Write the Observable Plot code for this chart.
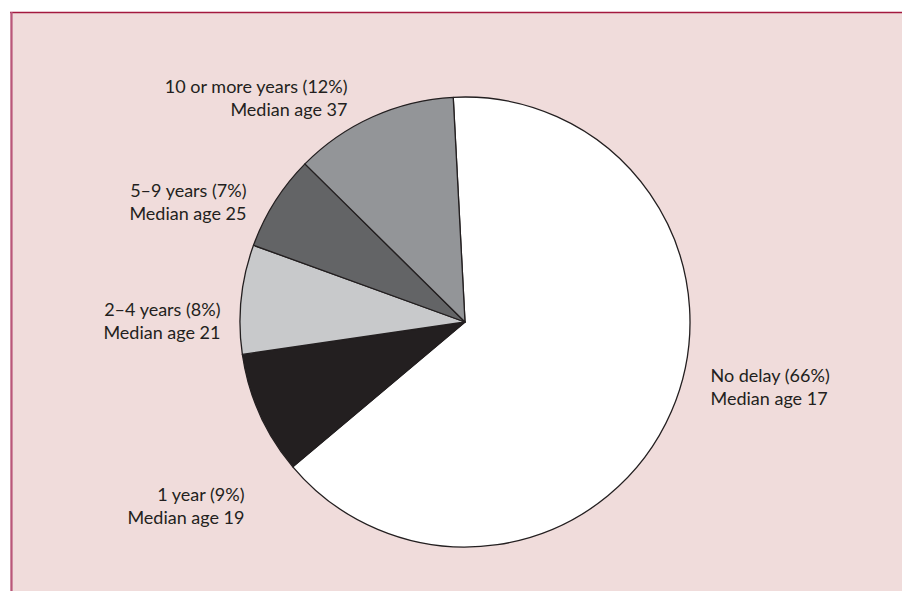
<!DOCTYPE html>
<html><head><meta charset="utf-8">
<script src="https://cdn.jsdelivr.net/npm/d3@7"></script>
<script src="https://cdn.jsdelivr.net/npm/@observablehq/plot@0.6"></script>
<style>html,body{margin:0;padding:0;background:#fff}</style>
</head><body><div id="chart"></div>
<script>
// ---- data ----
const categories = ["No delay", "1 year", "2–4 years", "5–9 years", "10 or more years"];
const shares = [66, 9, 8, 7, 12];
const medianAges = [17, 19, 21, 25, 37];

// ---- styles / layout ----
const sliceColors = ["#ffffff", "#231f20", "#c8c9cb", "#636466", "#939598"];
const W = 902, H = 591;
const panel = {x1: 10, y1: 12};
const pieCenter = [465, 322], pieRadius = 225, startDeg = -3;
// label anchor points (first line top) and alignment
const labelX = [710, 244, 220, 246, 347];
const labelY = [365, 484, 299, 180, 76];
const labelAlign = ["start", "end", "end", "end", "end"];

const rows = categories.map((c, i) => ({
  category: c, share: shares[i], median: medianAges[i],
  lx: labelX[i], ly: labelY[i], align: labelAlign[i]
}));

const colorScale = Plot.scale({color: {type: "ordinal", domain: categories, range: sliceColors}});
const a0 = startDeg * Math.PI / 180;
const arcs = d3.pie().value(d => d.share).sort(null).startAngle(a0).endAngle(a0 + 2 * Math.PI)(rows);
const arcGen = d3.arc().innerRadius(0).outerRadius(pieRadius);

function pieMark() {
  const g = d3.create("svg:g")
    .attr("transform", `translate(${pieCenter[0]},${pieCenter[1]})`);
  g.selectAll("path").data(arcs).join("path")
    .attr("d", arcGen)
    .attr("fill", d => colorScale.apply(d.data.category))
    .attr("stroke", "#231f20")
    .attr("stroke-width", 1.3)
    .attr("stroke-linejoin", "round");
  return g.node();
}

const labelText = d => `${d.category} (${d.share}%)\nMedian age ${d.median}`;
const textOpts = {
  x: "lx", y: "ly", text: labelText, lineAnchor: "top", lineHeight: 1.28,
  fontSize: 18, fill: "#231f20"
};

const chart = Plot.plot({
  width: W, height: H, margin: 0,
  x: {domain: [0, W], range: [0, W], axis: null},
  y: {domain: [0, H], range: [0, H], axis: null},
  style: {fontFamily: "Lato, 'Open Sans', sans-serif", background: "#fff", overflow: "visible"},
  marks: [
    Plot.rect([panel], {x1: "x1", y1: "y1", x2: W, y2: H, fill: "#f0dcdb"}),
    Plot.ruleY([panel.y1], {x1: panel.x1, x2: W, stroke: "#a3193f", strokeWidth: 1.6}),
    Plot.ruleX([panel.x1 + 1], {y1: panel.y1, y2: H, stroke: "#b9577a", strokeWidth: 2.2}),
    pieMark,
    Plot.text(rows.filter(d => d.align === "end"), {...textOpts, textAnchor: "end"}),
    Plot.text(rows.filter(d => d.align === "start"), {...textOpts, textAnchor: "start"})
  ]
});
document.getElementById("chart").append(chart);
</script>
</body></html>
